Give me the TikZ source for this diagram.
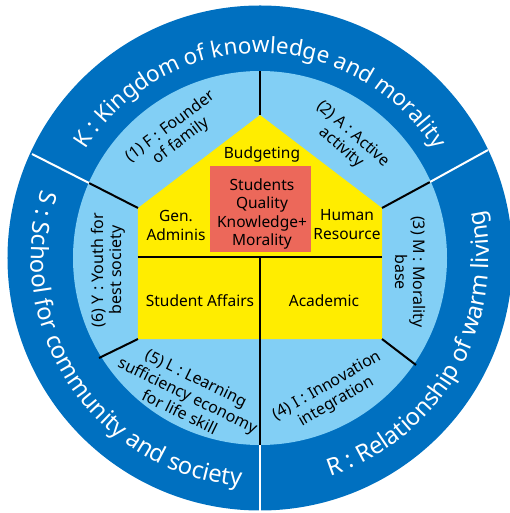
\documentclass[tikz,border=0pt]{standalone}
\usepackage{fontspec}
\setmainfont{Noto Sans}
\usetikzlibrary{decorations.text}
\definecolor{dblue}{RGB}{0,112,192}
\definecolor{lblue}{RGB}{130,207,245}
\definecolor{hyellow}{RGB}{255,237,0}
\definecolor{hred}{RGB}{236,104,90}
\newcommand\arcfont{\color{white}\fontsize{22.5}{25}\selectfont}
\newcommand\arcfontb{\color{white}\fontsize{23.8}{26}\selectfont}
\begin{document}
\begin{tikzpicture}[x=1pt,y=1pt,
  lbl/.style={font=\fontsize{15.5}{17}\selectfont, align=center, text=black, inner sep=0pt},
  ringlbl/.style={font=\fontsize{16}{18}\selectfont, align=center, text=black, inner sep=0pt},
  blk/.style={draw=black, line width=2pt},
  wht/.style={draw=white, line width=2pt},
  arctext/.style={decorate, decoration={text along path, text align=center, text={|\arcfont|#1}}},
  arctextb/.style={decorate, decoration={text along path, text align=center, text={|\arcfontb|#1}}}]
\useasboundingbox (-260,-255) rectangle (250,258);
\clip (-260,-255) rectangle (250,258);
% rings
\node[circle, fill=dblue, minimum size=505pt, inner sep=0pt] (outer) at (0,0) {};
\node[circle, fill=lblue, minimum size=374pt, inner sep=0pt] (inner) at (0,0) {};
% house
\fill[hyellow] (-122,-81) -- (-122,50) -- (0,143) -- (122,50) -- (122,-81) -- cycle;
\fill[hred] (-50,6) rectangle (51,92);
% coordinates
\coordinate (apex) at (0,143);
\coordinate (topin) at (0,187);
\coordinate (lsh) at (-122,50);
\coordinate (rsh) at (122,50);
\coordinate (lbot) at (-122,-81);
\coordinate (rbot) at (122,-81);
\coordinate (ulin) at (-171,75);
\coordinate (ulout) at (-228,104);
\coordinate (urin) at (170,76);
\coordinate (urout) at (228,108);
\coordinate (llin) at (-161,-100);
\coordinate (lrin) at (156,-107);
\coordinate (mid) at (0,1);
\coordinate (botin) at (0,-187);
\coordinate (botout) at (0,-256);
\coordinate (hl) at (-122,1);
\coordinate (hr) at (122,1);
% dividers
\draw[blk] (apex) -- (topin);
\draw[blk] (lsh) -- (ulin);
\draw[wht] (ulin) -- (ulout);
\draw[blk] (rsh) -- (urin);
\draw[wht] (urin) -- (urout);
\draw[blk] (lbot) -- (llin);
\draw[blk] (rbot) -- (lrin);
\draw[black, line width=2.6pt] (hl) -- (hr);
\draw[blk] (mid) -- (botin);
\draw[wht] (botin) -- (botout);
% house labels
\node[lbl] (budget) at (2,104) {Budgeting};
\node[lbl, font=\fontsize{15.5}{18.5}\selectfont] (core) at (2,44) {Students\\Quality\\Knowledge+\\Morality};
\node[lbl, font=\fontsize{15.5}{19}\selectfont] (gen) at (-84,33) {Gen.\\Adminis};
\node[lbl, font=\fontsize{15.5}{19}\selectfont] (hres) at (87,33) {Human\\Resource};
\node[lbl] (sa) at (-60,-43) {Student Affairs};
\node[lbl] (acad) at (64,-43) {Academic};
% ring labels
\node[ringlbl, rotate=37] (f) at (-84,124) {(1) F : Founder\\of family};
\node[ringlbl, rotate=-41] (a) at (87,117) {(2) A : Active\\activity};
\node[ringlbl, rotate=-90] (m) at (150,-14) {(3) M : Morality\\base};
\node[ringlbl, rotate=30] (i) at (72,-136) {(4) I : Innovation\\integration};
\node[ringlbl, rotate=-26, font=\fontsize{16}{19}\selectfont] (l) at (-72,-137) {(5) L : Learning\\sufficiency economy\\for life skill};
\node[ringlbl, rotate=90] (y) at (-152,-12) {(6) Y : Youth for\\best society};
% outer arc texts
\path[arctext={K : Kingdom of knowledge and morality}] (180:205) arc[start angle=180, end angle=0, radius=205];
\path[arctextb={S : School for community and society}] (139:229) arc[start angle=139, end angle=289, radius=229];
\path[arctextb={R : Relationship of warm living}] (-105:229) arc[start angle=-105, end angle=45, radius=229];
\end{tikzpicture}
\end{document}
